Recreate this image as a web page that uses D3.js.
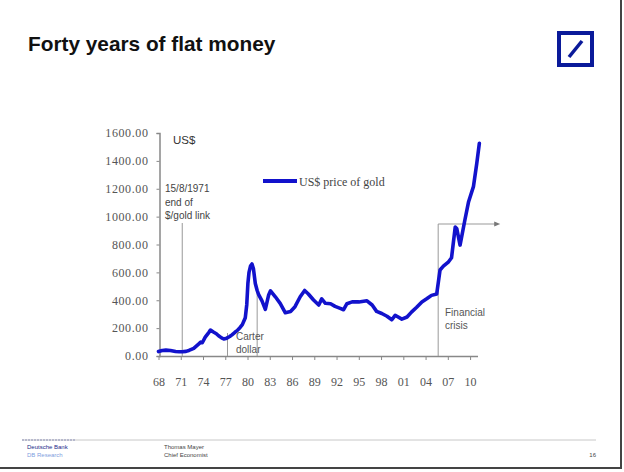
<!DOCTYPE html>
<html><head><meta charset="utf-8">
<script src="https://cdn.jsdelivr.net/npm/d3@7"></script>
<style>
html,body{margin:0;padding:0;background:#fff;}
svg{display:block;}
</style></head>
<body>
<svg id="c" width="624" height="472"></svg>
<script>
// ---- data ----
const title = "Forty years of flat money";
const seriesName = "US$ price of gold";
const unitLabel = "US$";
const years = [1968.0,1968.5,1969.0,1969.6,1970.3,1970.8,1971.2,1971.7,1972.1,1972.75,1973.4,1973.7,1973.9,1974.3,1974.8,1975.0,1975.4,1975.8,1976.1,1976.5,1976.8,1977.2,1977.6,1977.9,1978.3,1978.6,1979.0,1979.3,1979.7,1979.9,1980.05,1980.2,1980.4,1980.6,1980.8,1981.05,1981.3,1981.5,1981.95,1982.4,1982.85,1983.1,1983.75,1984.4,1985.1,1985.8,1986.4,1987.1,1987.7,1988.2,1988.9,1989.6,1990.0,1990.5,1991.2,1991.8,1992.5,1992.95,1993.4,1994.1,1995.0,1996.1,1996.8,1997.4,1998.1,1998.8,1999.45,1999.9,2000.8,2001.5,2002.1,2002.8,2003.5,2004.2,2004.8,2005.5,2005.95,2006.4,2007.1,2007.5,2008.0,2008.2,2008.65,2009.3,2009.8,2010.45,2010.9,2011.25];
const goldPrice = [32,40,42,40,32,30,30,33,40,55,85,100,95,135,170,186,172,160,145,130,122,128,140,152,170,182,205,225,275,370,520,600,645,660,625,520,470,440,395,335,438,468,425,378,310,320,354,425,470,445,402,366,410,378,375,356,342,332,375,388,388,396,366,320,305,285,260,292,265,280,315,350,388,412,435,445,617,645,676,705,925,915,796,976,1107,1215,1382,1526];
const xTicks = [1968,1971,1974,1977,1980,1983,1986,1989,1992,1995,1998,2001,2004,2007,2010];
const yTicks = [0,200,400,600,800,1000,1200,1400,1600];
// annotations (year positions and text lines)
const goldLinkYear = 1971.2;
const goldLinkText = ["15/8/1971","end of","$/gold link"];
const carterStart = 1977.3, carterEnd = 1981.3;
const carterText = ["Carter","dollar"];
const crisisYear = 2005.7;
const crisisText = ["Financial","crisis"];
const footerLeft = ["Deutsche Bank","DB Research"];
const footerMid = ["Thomas Mayer","Chief Economist"];
const pageNo = "16";

// ---- drawing ----
const svg = d3.select("#c");
const x = d3.scaleLinear().domain([1968, 2011]).range([158.5, 477.5]);
const y = d3.scaleLinear().domain([0, 1600]).range([356, 133]);
const axisCol = "#888";

// frame (right / bottom edge of slide)
svg.append("line").attr("x1",621).attr("x2",621).attr("y1",0).attr("y2",469).attr("stroke","#444").attr("stroke-width",2);
svg.append("line").attr("x1",0).attr("x2",622).attr("y1",468).attr("y2",468).attr("stroke","#444").attr("stroke-width",2);

// title
svg.append("text").attr("x",28).attr("y",51).text(title)
  .attr("font-family","Liberation Sans, Arial, sans-serif").attr("font-weight","bold")
  .attr("font-size",20.8).attr("fill","#111");

// logo
const logo = svg.append("g");
logo.append("rect").attr("x",559).attr("y",33).attr("width",33).attr("height",32)
  .attr("fill","none").attr("stroke","#0a1a9a").attr("stroke-width",4);
logo.append("line").attr("x1",569).attr("y1",57).attr("x2",582).attr("y2",41)
  .attr("stroke","#0a1a9a").attr("stroke-width",3.5);

// axes
const yAxis = d3.axisLeft(y).tickValues(yTicks).tickFormat(d3.format(".2f")).tickSize(3).tickPadding(8);
const gy = svg.append("g").attr("transform","translate(159.5,0)").call(yAxis);
gy.select(".domain").attr("stroke",axisCol).attr("stroke-width",1.5);
gy.selectAll(".tick line").attr("stroke",axisCol);
gy.selectAll(".tick text").attr("font-family","Liberation Serif, Times New Roman, serif")
  .attr("font-size",12).attr("fill","#555").attr("letter-spacing",0.6);

const xAxis = d3.axisBottom(x).tickValues(xTicks).tickFormat(d => String(d % 100).padStart(2,"0")).tickSize(4).tickPadding(17).tickSizeOuter(0);
const gx = svg.append("g").attr("transform","translate(0,356)").call(xAxis);
gx.select(".domain").attr("stroke",axisCol).attr("stroke-width",1.5);
gx.selectAll(".tick line").attr("stroke",axisCol);
gx.selectAll(".tick text").attr("font-family","Liberation Serif, Times New Roman, serif")
  .attr("font-size",12).attr("fill","#555");

// annotation lines
const ann = svg.append("g").attr("stroke","#999").attr("stroke-width",1);
ann.append("line").attr("x1",x(goldLinkYear)).attr("x2",x(goldLinkYear)).attr("y1",223).attr("y2",356);
ann.append("line").attr("x1",x(carterStart)).attr("x2",x(carterStart)).attr("y1",333).attr("y2",356);
ann.append("line").attr("x1",x(carterEnd)).attr("x2",x(carterEnd)).attr("y1",288).attr("y2",356);
ann.append("line").attr("x1",x(crisisYear)).attr("x2",x(crisisYear)).attr("y1",224).attr("y2",356);
ann.append("line").attr("x1",x(crisisYear)).attr("x2",x(2011.5)+15).attr("y1",224).attr("y2",224);
svg.append("path").attr("d",`M${x(2011.5)+19},224 l-6,-2.5 l0,5 z`).attr("fill","#777");

// series line
const data = years.map((yr,i)=>({yr, v: goldPrice[i]}));
svg.append("path").datum(data)
  .attr("d", d3.line().x(d=>x(d.yr)).y(d=>y(d.v)).curve(d3.curveLinear))
  .attr("fill","none").attr("stroke","#1212cc").attr("stroke-width",3.6)
  .attr("stroke-linejoin","round").attr("stroke-linecap","round");

// texts
const sans = "Liberation Sans, Arial, sans-serif";
svg.append("text").attr("x",173).attr("y",144).text(unitLabel)
  .attr("font-family",sans).attr("font-size",11.5).attr("fill","#333");
goldLinkText.forEach((t,i)=>svg.append("text").attr("x",165).attr("y",192+i*13.5).text(t)
  .attr("font-family",sans).attr("font-size",10).attr("fill","#444"));
carterText.forEach((t,i)=>svg.append("text").attr("x",236).attr("y",340+i*13).text(t)
  .attr("font-family",sans).attr("font-size",10).attr("fill","#555"));
crisisText.forEach((t,i)=>svg.append("text").attr("x",445).attr("y",316+i*13).text(t)
  .attr("font-family",sans).attr("font-size",10).attr("fill","#555"));

// legend
svg.append("line").attr("x1",263).attr("x2",297).attr("y1",181).attr("y2",181)
  .attr("stroke","#1212cc").attr("stroke-width",4);
svg.append("text").attr("x",299).attr("y",186).text(seriesName)
  .attr("font-family","Liberation Serif, Times New Roman, serif").attr("font-size",12).attr("fill","#444");

// footer
svg.append("line").attr("x1",22).attr("x2",596).attr("y1",440).attr("y2",440).attr("stroke","#c8c8c8").attr("stroke-width",1);
svg.append("line").attr("x1",22).attr("x2",76).attr("y1",440).attr("y2",440).attr("stroke","#8a8fb8").attr("stroke-width",1).attr("stroke-dasharray","2,1");
svg.append("text").attr("x",27).attr("y",449).text(footerLeft[0]).attr("font-family",sans).attr("font-size",6).attr("fill","#1a2a8a");
svg.append("text").attr("x",27).attr("y",457).text(footerLeft[1]).attr("font-family",sans).attr("font-size",6).attr("fill","#7fa0e0");
svg.append("text").attr("x",164).attr("y",449).text(footerMid[0]).attr("font-family",sans).attr("font-size",6).attr("fill","#444");
svg.append("text").attr("x",164).attr("y",457).text(footerMid[1]).attr("font-family",sans).attr("font-size",6).attr("fill","#444");
svg.append("text").attr("x",596).attr("y",457).attr("text-anchor","end").text(pageNo).attr("font-family",sans).attr("font-size",6).attr("fill","#444");
</script>
</body></html>
